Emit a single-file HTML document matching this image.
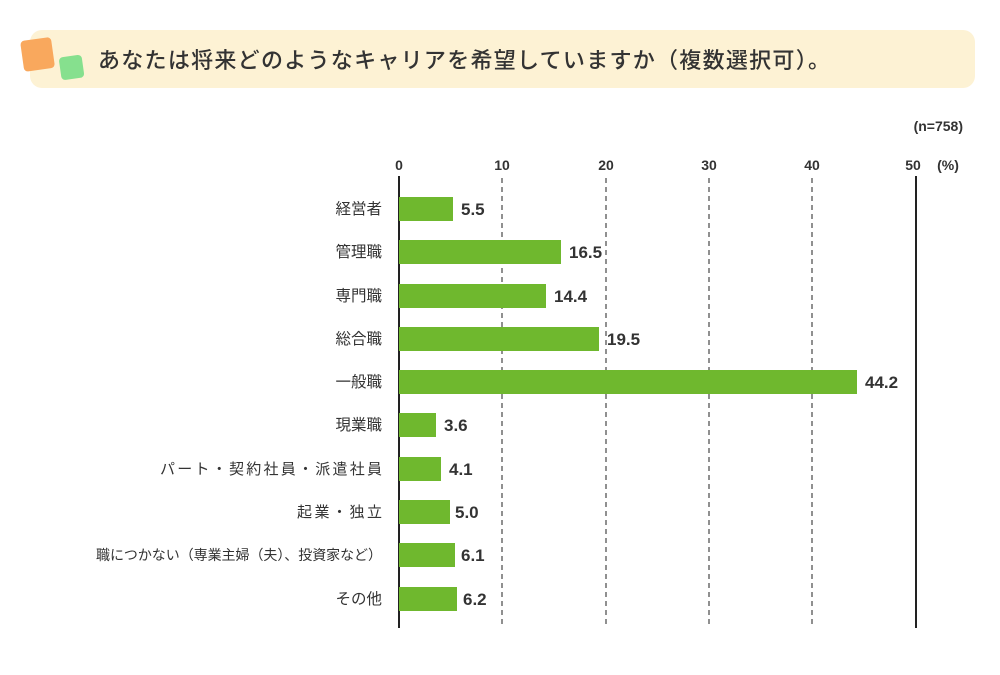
<!DOCTYPE html><html><head><meta charset="utf-8"><style>
body{margin:0;background:#fff;width:1000px;height:670px;overflow:hidden;font-family:"Liberation Sans","Noto Sans CJK JP",sans-serif}
</style></head><body>
<svg width="1000" height="670" xmlns="http://www.w3.org/2000/svg" font-family="'Liberation Sans','Noto Sans CJK JP',sans-serif">
<rect x="30" y="30" width="945" height="58" rx="12" fill="#fdf2d4"/>
<rect x="22" y="39" width="31" height="31" rx="4" fill="#f9a85d" transform="rotate(-8 37 54)"/>
<rect x="60" y="56" width="23" height="23" rx="4" fill="#86e08e" transform="rotate(-8 71 67)"/>
<text x="98" y="68" font-size="22" fill="#333" font-weight="500" textLength="732" lengthAdjust="spacing">あなたは将来どのようなキャリアを希望していますか（複数選択可）。</text>
<text x="963" y="131" font-size="14" font-weight="bold" fill="#333" text-anchor="end">(n=758)</text>
<g font-size="14" font-weight="bold" fill="#333" text-anchor="middle">
<text x="399" y="170">0</text><text x="502" y="170">10</text><text x="606" y="170">20</text><text x="709" y="170">30</text><text x="812" y="170">40</text><text x="913" y="170">50</text>
<text x="948" y="170">(%)</text></g>
<g stroke="#555" stroke-width="1.3" stroke-dasharray="5,4">
<line x1="502" y1="178" x2="502" y2="628"/><line x1="606" y1="178" x2="606" y2="628"/><line x1="709" y1="178" x2="709" y2="628"/><line x1="812" y1="178" x2="812" y2="628"/></g>
<line x1="399" y1="176" x2="399" y2="628" stroke="#222" stroke-width="2"/>
<line x1="916" y1="176" x2="916" y2="628" stroke="#222" stroke-width="2"/>
<g fill="#6fb82e">
<rect x="399" y="197" width="54" height="24"/>
<rect x="399" y="240" width="162" height="24"/>
<rect x="399" y="284" width="147" height="24"/>
<rect x="399" y="327" width="200" height="24"/>
<rect x="399" y="370" width="458" height="24"/>
<rect x="399" y="413" width="37" height="24"/>
<rect x="399" y="457" width="42" height="24"/>
<rect x="399" y="500" width="51" height="24"/>
<rect x="399" y="543" width="56" height="24"/>
<rect x="399" y="587" width="58" height="24"/></g>
<g font-size="17" font-weight="bold" fill="#333">
<text x="461" y="215">5.5</text><text x="569" y="258">16.5</text><text x="554" y="302">14.4</text><text x="607" y="345">19.5</text><text x="865" y="388">44.2</text><text x="444" y="431">3.6</text><text x="449" y="475">4.1</text><text x="455" y="518">5.0</text><text x="461" y="561">6.1</text><text x="463" y="605">6.2</text></g>
<g font-size="15.5" fill="#333" text-anchor="end">
<text x="382" y="214">経営者</text><text x="382" y="257">管理職</text><text x="382" y="301">専門職</text><text x="382" y="344">総合職</text><text x="382" y="387">一般職</text><text x="382" y="430">現業職</text>
<text x="382" y="604">その他</text></g>
<g font-size="15" fill="#333">
<text x="160" y="474" textLength="222" lengthAdjust="spacing">パート・契約社員・派遣社員</text>
<text x="297" y="517" textLength="85" lengthAdjust="spacing">起業・独立</text>
<text x="96" y="560" font-size="14" textLength="286" lengthAdjust="spacing">職につかない（専業主婦（夫）、投資家など）</text>
</g>
</svg></body></html>
